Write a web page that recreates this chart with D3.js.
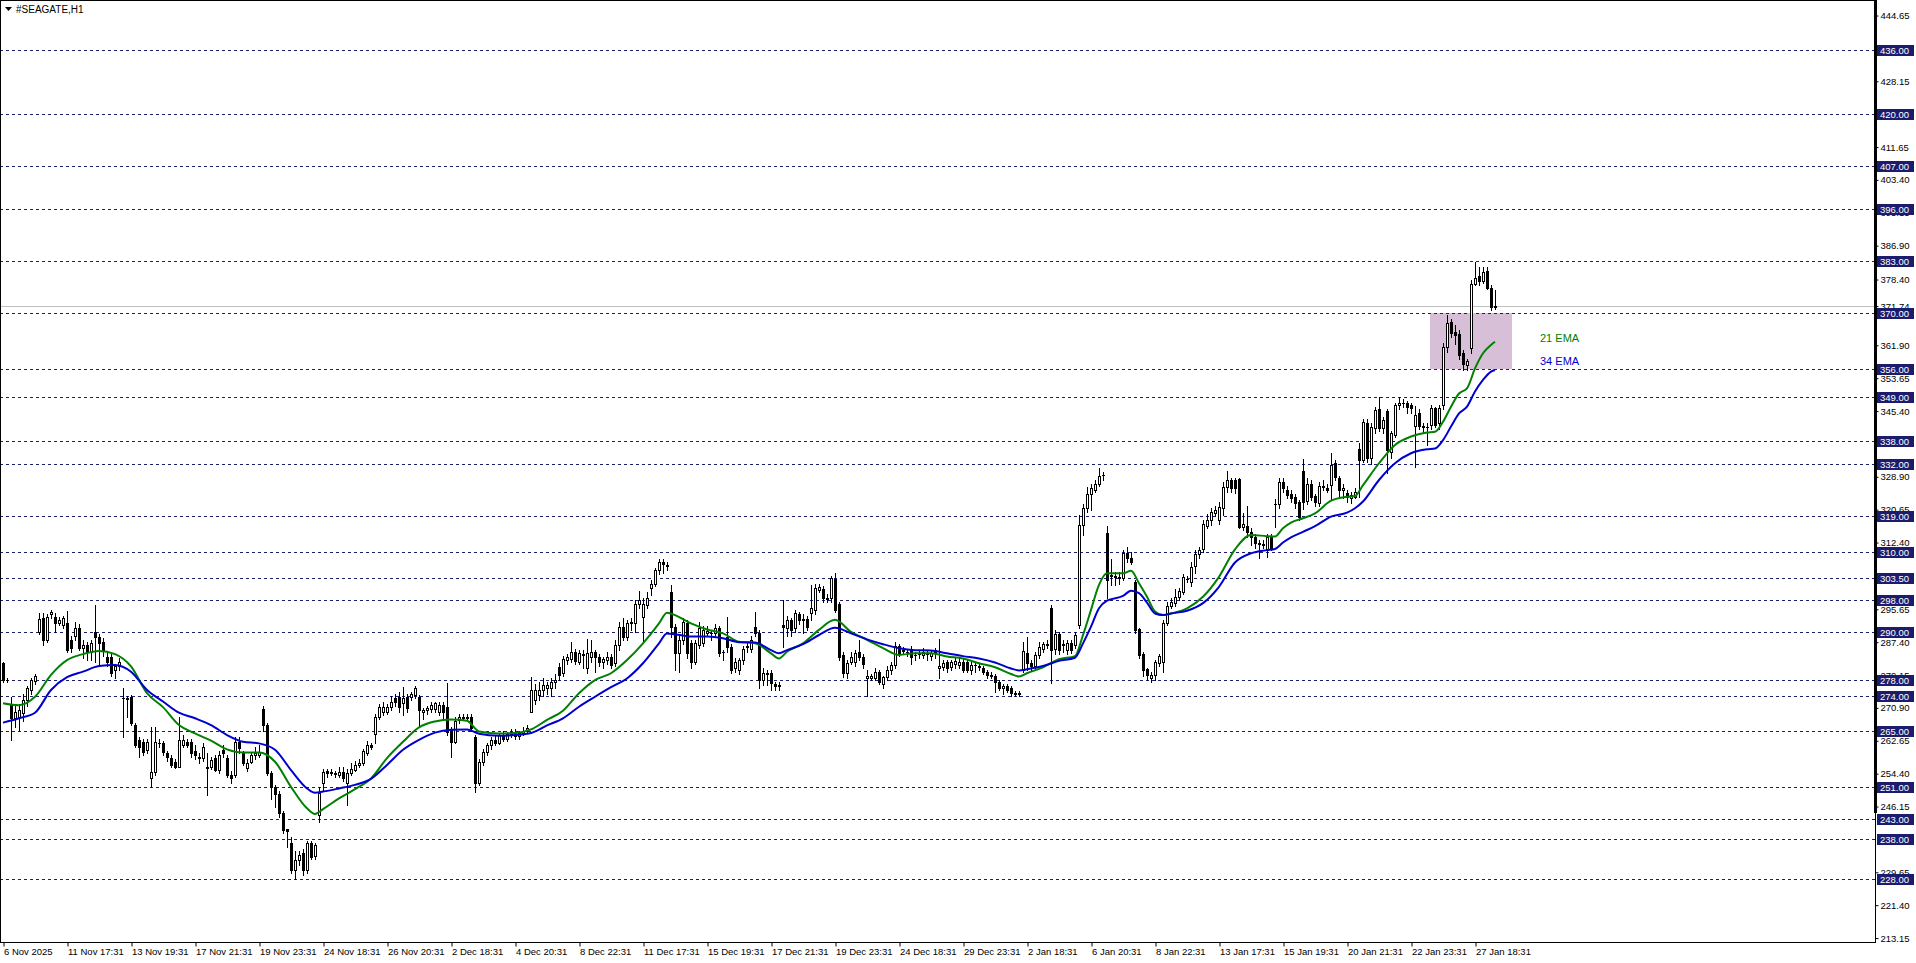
<!DOCTYPE html>
<html><head><meta charset="utf-8">
<script src="https://cdn.jsdelivr.net/npm/d3@7"></script>
<style>html,body{margin:0;padding:0;background:#fff;overflow:hidden}svg{display:block}</style>
</head><body><svg id="c" width="1916" height="963"></svg>
<script>
const chartTitle = "#SEAGATE,H1";
const timeLabels = ["6 Nov 2025","11 Nov 17:31","13 Nov 19:31","17 Nov 21:31","19 Nov 23:31","24 Nov 18:31","26 Nov 20:31","2 Dec 18:31","4 Dec 20:31","8 Dec 22:31","11 Dec 17:31","15 Dec 19:31","17 Dec 21:31","19 Dec 23:31","24 Dec 18:31","29 Dec 23:31","2 Jan 18:31","6 Jan 20:31","8 Jan 22:31","13 Jan 17:31","15 Jan 19:31","20 Jan 21:31","22 Jan 23:31","27 Jan 18:31"];
const timeLabelBars = [0,16,32,48,64,80,96,112,128,144,160,176,192,208,224,240,256,272,288,304,320,336,352,368];
const priceTicks = [444.65,428.15,411.65,403.40,395.15,386.90,378.40,371.74,361.90,353.65,345.40,337.15,328.90,320.65,312.40,295.65,287.40,279.15,270.90,262.65,254.40,246.15,229.65,221.40,213.15];
const levels = [436,420,407,396,383,370,356,349,338,332,319,310,303.5,298,290,278,274,265,251,243,238,228];
const currentPrice = 371.74;
const zoneBars = [357, 377];
const zonePrices = [356, 370];
const emaNames = ["21 EMA","34 EMA"];
const priceRange = [212.16, 448.55];

// [open, high, low, close] per H1 bar
const ohlc = [
[282.1,282.3,277.5,277.9],[278.0,278.4,277.5,277.8],[271.6,273.7,262.9,268.3],[268.3,272.0,266.0,270.0],[268.5,272.0,265.4,270.5],
[269.6,274.5,267.5,272.9],[273.0,276.5,271.5,275.8],[275.4,278.5,274.5,277.9],[277.7,279.5,277.0,278.8],[290.0,294.8,289.5,293.1],
[293.4,294.6,286.7,288.0],[288.0,294.5,287.5,293.8],[294.5,295.5,293.5,295.0],[293.8,294.6,290.0,292.1],[292.1,293.8,291.8,293.0],
[291.8,294.0,291.0,293.5],[292.1,295.3,285.0,285.4],[288.0,289.0,285.0,285.9],[289.0,292.5,288.0,291.0],[291.0,292.0,285.5,285.9],
[285.9,288.0,283.5,286.7],[286.7,287.5,283.0,285.0],[285.0,288.0,283.0,287.1],[290.0,296.7,282.5,288.8],[288.8,289.5,282.0,287.1],
[287.5,288.5,284.0,285.4],[283.8,285.0,281.5,282.5],[283.8,284.5,279.0,279.6],[280.4,282.0,278.5,281.3],[281.3,283.5,280.5,282.5],
[273.3,275.8,263.7,273.5],[273.5,274.0,268.7,273.2],[273.7,274.2,266.5,267.0],[266.6,267.0,261.0,261.6],[262.9,263.5,258.5,261.2],
[262.4,263.0,259.0,259.9],[260.4,263.0,259.5,262.4],[253.2,266.2,251.0,254.9],[254.9,266.0,254.0,262.4],[262.2,263.0,261.0,262.0],
[262.0,262.5,259.0,259.9],[259.5,260.0,257.5,258.7],[258.3,259.0,256.0,256.6],[257.4,258.0,255.8,256.2],[256.2,268.7,256.0,262.9],
[261.6,264.0,261.0,262.9],[262.4,263.0,261.0,261.6],[262.4,263.0,258.5,259.5],[260.0,261.5,258.0,259.1],[258.3,259.5,257.0,258.7],
[258.3,262.0,257.5,261.2],[255.8,259.5,249.0,256.2],[256.2,258.5,255.5,257.8],[258.3,259.0,255.0,255.3],[255.3,260.0,254.5,259.1],
[260.4,261.5,258.5,259.5],[258.3,259.0,253.5,254.1],[254.1,255.0,252.0,253.2],[254.1,263.5,253.5,262.4],[262.4,263.5,259.5,260.8],
[259.5,260.0,256.5,257.0],[255.8,258.0,255.0,257.0],[257.4,259.5,257.0,259.1],[259.1,261.0,258.0,259.5],[259.1,261.5,258.5,259.9],
[270.6,271.5,265.0,266.6],[266.6,267.0,254.0,254.5],[254.5,255.0,248.0,251.1],[251.1,251.5,246.0,249.3],[249.3,250.0,243.5,244.5],
[244.5,245.0,239.5,240.3],[240.4,240.6,236.0,239.9],[236.9,238.5,229.5,230.2],[230.2,235.0,227.9,232.7],[232.7,235.0,231.5,234.0],
[234.4,235.5,229.0,230.2],[230.2,237.5,229.5,237.0],[237.0,237.5,233.0,233.6],[233.8,237.0,233.0,236.5],[244.0,251.0,242.3,249.5],
[252.0,255.5,250.0,254.9],[255.1,255.5,253.5,254.5],[254.7,255.5,254.0,254.6],[254.6,255.0,253.5,254.4],[254.1,256.0,253.5,254.9],
[254.9,256.0,252.5,253.2],[252.0,255.5,246.5,254.5],[254.5,257.0,254.0,255.5],[255.3,257.5,255.0,256.6],[256.6,258.0,256.0,257.0],
[257.0,260.5,256.5,260.1],[259.5,262.5,259.0,261.6],[261.6,262.0,260.5,261.2],[264.4,269.5,262.0,268.7],[268.7,272.0,268.0,271.1],
[270.0,272.5,269.0,271.2],[269.9,272.0,269.5,271.2],[271.2,274.0,270.5,272.5],[273.5,274.5,271.5,272.5],[273.7,275.0,270.0,271.2],
[272.1,276.2,269.0,273.5],[273.7,274.5,270.0,270.8],[273.7,275.0,273.0,274.4],[274.1,276.5,273.5,275.8],[273.7,274.2,266.6,270.4],
[270.0,271.0,268.0,270.4],[270.4,271.5,269.5,270.8],[270.6,272.5,270.0,271.7],[270.6,272.5,270.0,272.1],[270.0,272.5,269.0,271.6],
[271.6,272.3,268.0,270.0],[271.2,277.1,264.0,264.9],[265.4,266.0,258.7,262.4],[262.4,268.5,262.0,267.5],[267.9,269.5,267.0,268.5],
[268.3,269.5,268.0,268.7],[268.3,269.5,268.0,268.7],[268.7,269.5,265.0,265.8],[263.7,264.0,249.9,252.0],[252.0,258.0,251.5,257.4],
[257.4,260.5,256.5,259.8],[259.8,262.0,259.0,261.5],[261.5,263.5,260.5,262.8],[262.8,264.0,261.5,262.2],[262.2,264.5,261.8,264.0],
[264.0,265.0,262.5,263.2],[263.2,264.8,262.6,264.3],[264.3,265.5,263.5,264.8],[264.8,265.5,263.2,263.8],[263.8,265.2,263.0,264.6],
[264.6,266.0,264.0,265.2],[265.2,266.5,264.5,265.8],[269.9,278.7,269.9,275.4],[272.9,277.0,272.0,275.4],[274.1,277.5,273.0,275.4],
[275.4,278.5,274.0,276.6],[276.0,277.5,274.5,276.6],[276.0,278.5,274.0,277.5],[277.5,279.5,276.0,277.8],[281.2,282.1,277.9,279.2],
[279.6,284.0,279.0,283.3],[282.9,284.5,282.0,283.6],[283.3,287.5,282.5,285.0],[285.0,285.8,282.0,282.8],[282.5,285.5,282.0,284.6],
[284.2,285.5,281.0,284.5],[281.0,288.3,279.6,284.6],[283.6,288.0,282.5,285.0],[285.0,285.5,280.0,283.8],[283.8,284.5,281.5,282.5],
[282.5,283.8,281.0,283.1],[283.0,285.0,282.0,283.6],[283.8,284.5,281.0,281.7],[282.1,288.0,281.5,286.7],[286.7,292.5,285.5,291.1],
[291.3,293.4,288.0,288.8],[288.8,293.0,288.0,292.1],[292.5,293.5,290.5,292.1],[292.1,298.0,290.0,297.1],[297.1,300.3,296.0,298.0],
[293.8,298.5,287.1,297.1],[296.7,300.0,296.0,298.4],[300.9,303.0,299.2,302.1],[302.1,306.0,301.5,305.5],[305.5,308.3,304.5,307.6],
[307.6,308.3,304.7,307.0],[306.8,307.6,305.5,306.5],[300.1,301.7,288.8,291.3],[291.3,292.0,280.4,284.6],[284.6,289.0,280.0,288.0],
[288.0,293.4,287.0,292.5],[292.1,293.0,283.5,284.6],[287.1,288.0,281.0,282.5],[282.5,288.0,282.0,287.1],[286.7,292.5,286.0,290.9],
[287.1,291.5,286.5,290.5],[289.7,291.5,289.0,290.3],[289.8,290.5,288.0,289.6],[289.6,292.0,289.0,290.9],[290.9,291.5,284.0,284.6],
[285.0,285.5,283.0,284.9],[288.8,293.8,285.0,286.3],[286.3,287.0,279.6,280.4],[280.8,283.5,280.0,282.5],[280.4,283.5,279.5,282.9],
[282.9,286.5,282.0,285.8],[286.3,287.5,285.0,286.4],[285.8,289.0,285.0,288.0],[291.3,295.0,289.0,289.8],[289.8,290.5,275.8,277.9],
[277.9,281.0,276.6,279.6],[279.6,280.4,276.6,279.5],[279.6,280.4,275.4,277.1],[276.8,277.5,275.5,276.5],[276.5,277.5,275.5,276.6],
[291.7,298.0,286.3,291.3],[290.9,294.0,289.0,292.9],[292.9,293.5,289.0,290.5],[290.9,295.5,290.0,294.6],[294.5,295.0,292.0,293.0],
[293.0,294.5,289.6,293.1],[293.2,294.0,290.5,291.1],[294.6,301.7,293.0,295.9],[295.5,302.1,294.5,300.9],[300.5,302.0,300.0,301.3],
[300.7,301.5,297.5,298.4],[298.3,299.5,297.5,298.4],[298.4,304.0,297.5,303.4],[303.2,304.7,295.0,295.5],[297.1,297.5,283.0,283.8],
[284.2,285.0,278.7,279.6],[279.6,283.0,278.5,282.1],[282.5,285.0,282.0,283.7],[282.5,285.5,281.5,284.6],[285.0,288.0,283.0,283.8],
[283.8,284.5,281.0,281.9],[278.4,280.4,273.8,278.8],[278.4,279.5,277.8,278.8],[278.4,281.0,277.9,280.0],[280.0,280.5,277.0,277.5],
[276.9,279.0,276.0,278.6],[278.6,281.3,278.0,280.4],[280.4,282.5,279.5,281.7],[281.7,287.5,281.0,286.4],[286.4,287.0,284.0,284.8],
[285.2,286.3,284.5,285.5],[285.0,285.5,284.0,284.9],[285.7,286.5,282.0,283.8],[284.2,285.0,283.0,284.1],[284.5,285.5,283.5,284.6],
[284.2,286.0,283.5,285.0],[284.6,285.5,283.0,284.5],[283.9,285.5,283.0,284.7],[285.4,286.0,283.5,284.6],[281.0,288.1,278.3,281.5],
[281.2,283.0,280.5,282.2],[282.5,283.0,280.0,280.8],[281.2,283.0,280.5,282.5],[282.0,283.5,281.0,282.8],[281.7,283.5,281.0,282.5],
[282.5,283.5,280.0,280.4],[282.5,283.0,279.8,280.4],[280.4,282.5,279.5,281.7],[281.6,282.5,280.0,281.7],[281.3,282.0,280.5,281.2],
[280.8,281.5,279.5,279.8],[280.0,280.5,278.5,279.2],[279.2,280.0,278.5,279.0],[278.9,279.5,274.9,277.5],[277.5,278.0,275.4,275.8],
[276.0,277.0,274.5,276.3],[276.5,277.0,275.0,275.4],[275.9,276.5,274.0,274.6],[274.6,275.2,273.8,274.4],[274.4,275.2,274.0,274.6],
[280.4,287.5,279.8,285.3],[284.6,288.8,280.4,282.1],[282.1,283.0,280.5,281.5],[281.5,285.0,280.4,284.2],[284.2,287.5,283.5,286.3],
[285.8,287.5,285.0,286.9],[286.9,288.0,286.0,286.8],[295.9,296.7,277.1,285.4],[285.6,290.5,284.5,289.4],[289.4,290.0,284.5,285.4],
[286.9,288.0,285.0,286.8],[285.4,288.0,284.5,287.1],[287.1,288.0,284.8,285.4],[286.7,290.0,286.0,289.2],[291.7,319.3,290.9,316.8],
[316.8,322.0,314.3,321.0],[321.0,326.4,320.0,324.5],[324.5,327.0,320.5,326.0],[325.6,328.0,325.0,327.1],[327.1,331.0,326.5,329.2],
[329.3,330.0,328.1,329.4],[314.7,316.5,298.4,303.0],[304.3,308.2,301.7,304.1],[303.8,305.0,301.7,303.9],[303.8,305.0,302.0,303.6],
[303.6,310.5,303.0,309.7],[309.7,311.4,307.5,308.4],[308.4,310.0,307.0,307.4],[302.6,303.0,289.6,290.4],[290.6,291.0,283.5,284.2],
[284.4,285.0,278.8,280.4],[280.6,281.0,278.0,279.2],[278.4,280.0,277.5,279.2],[279.2,283.0,277.9,282.3],[282.1,284.5,281.5,283.9],
[282.5,293.0,280.0,292.1],[292.1,297.5,291.7,296.5],[296.5,298.5,296.0,297.6],[297.3,300.7,296.5,298.8],[298.8,301.0,298.0,300.3],
[300.0,304.5,299.5,303.7],[303.3,304.0,302.5,303.2],[302.6,307.5,301.5,306.2],[306.4,310.5,304.7,309.5],[309.5,311.4,308.5,310.5],
[310.9,318.1,310.0,317.0],[316.5,319.5,316.0,318.1],[318.1,321.0,316.8,320.0],[319.7,321.5,319.0,320.6],[318.1,322.5,317.0,321.4],
[321.0,327.5,319.3,326.4],[326.4,330.4,325.0,328.1],[328.1,328.5,325.0,326.0],[328.1,328.5,324.8,326.0],[328.3,328.5,316.0,316.4],
[316.4,319.7,315.5,317.0],[316.5,321.6,313.9,315.1],[315.1,316.0,311.8,313.9],[313.9,314.5,311.0,312.2],[312.2,313.0,308.4,312.1],
[311.9,313.0,311.0,312.0],[310.9,314.5,308.8,313.7],[313.9,314.5,310.5,310.9],[322.1,323.4,316.4,322.1],[322.0,328.5,321.0,327.7],
[327.7,328.5,325.0,326.0],[325.7,326.5,323.5,324.3],[324.6,325.5,322.5,323.5],[323.9,324.5,321.0,322.2],[322.7,323.1,318.0,318.9],
[330.4,333.3,320.7,322.7],[322.9,328.5,322.0,327.2],[327.2,328.0,323.0,323.9],[324.1,324.5,321.5,322.7],[322.2,327.5,321.5,326.6],
[326.4,328.1,325.5,326.6],[326.2,327.0,325.0,325.6],[326.8,334.8,323.0,331.9],[332.3,333.0,328.0,328.9],[328.5,329.0,323.9,325.6],
[325.6,327.0,323.5,326.2],[324.8,325.5,322.5,323.9],[323.5,325.0,322.2,324.3],[323.9,326.0,323.5,325.1],[335.8,337.3,323.9,333.1],
[333.1,343.5,332.5,342.7],[342.5,343.5,332.5,333.5],[333.5,342.5,332.0,341.5],[341.1,346.5,340.0,345.7],[345.8,348.8,340.5,341.2],
[341.1,344.0,340.0,343.1],[345.4,346.0,329.8,335.6],[335.2,340.5,333.5,339.8],[339.5,347.5,339.0,346.9],[346.9,349.0,346.0,347.5],
[347.5,348.5,346.5,347.5],[347.5,348.0,344.8,346.5],[346.9,347.3,345.0,346.1],[341.7,346.7,331.4,344.4],[345.0,346.0,341.0,341.7],
[341.3,342.5,340.0,341.6],[341.4,342.5,336.9,341.3],[341.9,346.9,341.0,346.1],[346.1,346.5,341.5,341.9],[342.5,346.9,341.0,346.1],
[346.9,362.4,345.8,361.4],[361.4,369.5,360.3,367.6],[367.8,368.5,364.0,365.1],[365.3,367.0,362.2,364.6],[364.7,365.7,358.5,359.5],
[359.9,360.7,355.7,357.2],[357.0,358.5,355.8,358.0],[361.1,378.3,360.0,377.4],[377.4,382.9,377.0,378.9],[379.3,381.5,377.0,378.1],
[378.1,381.5,377.5,380.4],[380.6,381.5,376.0,376.4],[376.4,377.0,370.8,371.4],[371.4,375.8,371.0,371.7]
];

const emaBars = [0,4,8,12,16,20,24,28,32,36,40,44,48,52,56,60,64,68,72,76,78,80,84,88,92,96,100,104,108,112,116,119,124,128,132,136,140,144,148,152,156,160,164,166,168,172,176,180,184,188,192,194,196,200,204,208,212,216,220,224,228,232,236,240,244,248,252,254,256,260,264,268,270,272,274,276,280,282,284,286,288,290,292,296,300,304,308,312,316,318,320,322,325,328,332,336,338,340,344,348,352,356,358,360,362,364,366,368,370,372,373];
const ema21 = [272.1,271.6,273.7,279.2,282.9,284.4,285.2,284.4,281.3,274.6,271.1,266.6,264.5,262.7,260.5,259.7,259.7,257.4,251.1,245.7,244.3,245.5,248.2,250.5,253.2,258.3,262.4,266.0,267.5,268.0,267.7,265.0,264.5,264.6,265.5,267.9,270.2,274.6,277.9,279.6,282.9,287.1,292.1,294.8,294.2,292.1,290.6,289.6,287.5,287.1,284.6,283.3,285.0,287.1,290.5,293.0,290.0,288.0,285.9,284.2,284.6,284.6,283.8,283.3,282.1,281.1,279.4,278.8,279.6,281.1,283.1,283.9,289.2,295.5,301.8,304.7,304.7,305.3,302.2,298.8,295.1,294.2,294.6,295.9,298.8,303.8,310.7,314.3,314.0,313.9,316.0,317.4,318.5,319.7,322.9,323.9,324.1,326.8,332.3,336.9,339.0,340.0,340.2,342.7,346.5,349.8,351.1,356.1,359.9,362.0,362.8];
const ema34 = [267.2,268.3,269.7,275.4,278.6,280.0,281.4,281.7,280.0,275.4,272.5,269.7,268.3,266.6,264.1,262.4,262.0,260.4,255.3,250.7,249.6,249.9,250.7,251.6,253.1,256.6,260.4,262.9,264.7,265.4,265.5,264.4,263.9,264.1,264.6,266.5,268.3,271.2,273.7,276.1,278.3,282.1,287.1,289.6,289.4,288.8,288.8,288.4,287.4,287.3,285.4,284.6,285.4,286.9,289.2,291.0,289.6,288.1,286.9,285.9,285.4,285.3,284.6,283.9,283.3,282.3,280.8,280.3,280.6,281.4,282.7,283.5,287.1,291.3,295.9,297.8,299.0,300.3,299.7,297.3,294.6,294.2,294.6,295.3,297.2,301.3,307.4,309.7,310.5,310.8,312.4,313.7,315.1,316.5,318.9,319.9,321.0,322.7,328.1,332.3,334.8,335.8,336.0,338.1,341.5,344.8,346.5,350.3,353.2,355.3,355.7];

// ---------- drawing ----------
const svg = d3.select("#c");
const W = 1916, H = 963, plotRight = 1875, plotBottom = 942;
const navy = "#1c1c6c";
const font = "'Liberation Sans', Arial, sans-serif";

const x = d3.scaleLinear().domain([0, 1]).range([3, 7]);
const y = d3.scaleLinear().domain(priceRange).range([plotBottom, 0]);
const px = v => Math.round(x(v));
const py = v => Math.round(y(v));

svg.append("rect").attr("width", W).attr("height", H).attr("fill", "#fff");

const plot = svg.append("g");

// support/resistance zone
plot.append("rect")
  .attr("x", px(zoneBars[0]) - 1).attr("y", py(zonePrices[1]))
  .attr("width", px(zoneBars[1]) - px(zoneBars[0]) + 2)
  .attr("height", py(zonePrices[0]) - py(zonePrices[1]))
  .attr("fill", "#d8bfd8");

// current price line
plot.append("line").attr("x1", 0).attr("x2", plotRight)
  .attr("y1", py(currentPrice) + 0.5).attr("y2", py(currentPrice) + 0.5)
  .attr("stroke", "#c0c0c0").attr("stroke-width", 1);

// level lines
plot.selectAll("line.lvl").data(levels).join("line").attr("class", "lvl")
  .attr("x1", 0).attr("x2", plotRight)
  .attr("y1", d => py(d) + 0.5).attr("y2", d => py(d) + 0.5)
  .attr("stroke", navy).attr("stroke-width", 1).attr("stroke-dasharray", "3,3");

// candles
const cg = plot.append("g").attr("shape-rendering", "crispEdges");
ohlc.forEach((b, i) => {
  const [o, h, l, c] = b;
  const cx = px(i);
  cg.append("line").attr("x1", cx + 0.5).attr("x2", cx + 0.5)
    .attr("y1", py(h)).attr("y2", py(l) + 1).attr("stroke", "#000");
  const top = py(Math.max(o, c)), bot = py(Math.min(o, c));
  if (bot - top < 1) {
    cg.append("line").attr("x1", cx - 1).attr("x2", cx + 2)
      .attr("y1", top + 0.5).attr("y2", top + 0.5).attr("stroke", "#000");
  } else {
    cg.append("rect").attr("x", cx - 0.5).attr("y", top + 0.5)
      .attr("width", 2).attr("height", bot - top)
      .attr("fill", c >= o ? "#fff" : "#000").attr("stroke", "#000");
  }
});

// EMAs
const emaLine = vals => d3.line()
  .x((d, k) => x(emaBars[k])).y(d => y(d)).curve(d3.curveMonotoneX)(vals);
plot.append("path").attr("d", emaLine(ema21)).attr("fill", "none")
  .attr("stroke", "#008000").attr("stroke-width", 2);
plot.append("path").attr("d", emaLine(ema34)).attr("fill", "none")
  .attr("stroke", "#0000cd").attr("stroke-width", 2);

// EMA labels
svg.append("text").attr("x", 1540).attr("y", y(362.7)).text(emaNames[0])
  .attr("fill", "#008000").attr("font-family", font).attr("font-size", 11);
svg.append("text").attr("x", 1540).attr("y", y(357)).text(emaNames[1])
  .attr("fill", "#0000cd").attr("font-family", font).attr("font-size", 11);

// frame
svg.append("rect").attr("x", 0.5).attr("y", 0.5).attr("width", plotRight).attr("height", plotBottom)
  .attr("fill", "none").attr("stroke", "#000").attr("shape-rendering", "crispEdges");

// right axis
const yAxis = d3.axisRight(y).tickValues(priceTicks).tickFormat(d3.format(".2f")).tickSize(3).tickPadding(2);
const ya = svg.append("g").attr("transform", `translate(${plotRight + 0.5},0)`).call(yAxis);
ya.select(".domain").remove();
ya.selectAll("text").attr("font-family", font).attr("font-size", 9.5).attr("fill", "#000");
ya.selectAll("line").attr("stroke", "#000");
svg.append("line").attr("x1", plotRight + 0.5).attr("x2", plotRight + 0.5).attr("y1", 0).attr("y2", plotBottom)
  .attr("stroke", "#000").attr("stroke-width", 1);
svg.append("rect").attr("x", plotRight - 1).attr("y", 0).attr("width", 3).attr("height", 813).attr("fill", "#000");

// level labels on axis
const lg = svg.append("g");
levels.forEach(v => {
  const yy = py(v);
  lg.append("rect").attr("x", plotRight + 2).attr("y", yy - 5).attr("width", 37).attr("height", 11).attr("fill", navy);
  lg.append("text").attr("x", plotRight + 5).attr("y", yy + 0.5).attr("dy", "0.35em")
    .text(d3.format(".2f")(v)).attr("fill", "#fff").attr("font-family", font).attr("font-size", 9.5);
});

// bottom axis
const xAxis = d3.axisBottom(x).tickValues(timeLabelBars).tickFormat((d, k) => timeLabels[k]).tickSize(4).tickPadding(2);
const xa = svg.append("g").attr("transform", `translate(0.5,${plotBottom + 0.5})`).call(xAxis);
xa.select(".domain").remove();
xa.selectAll("text").attr("text-anchor", "start").attr("font-family", font).attr("font-size", 9.5).attr("fill", "#000");
xa.selectAll("line").attr("stroke", "#000");

// title
svg.append("path").attr("d", "M5,7 L12,7 L8.5,11 Z").attr("fill", "#000");
svg.append("text").attr("x", 16).attr("y", 13).text(chartTitle)
  .attr("font-family", font).attr("font-size", 10).attr("fill", "#000");
</script></body></html>
